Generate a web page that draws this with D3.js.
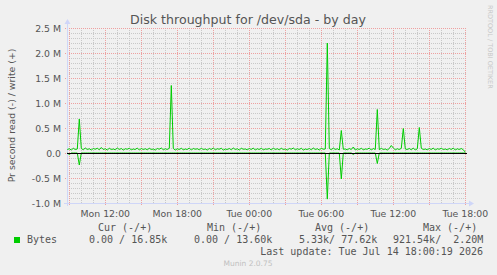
<!DOCTYPE html>
<html><head><meta charset="utf-8">
<script src="https://cdn.jsdelivr.net/npm/d3@7"></script>
<style>
html,body{margin:0;padding:0;background:#f0f0f0;}
svg{display:block;}
</style></head>
<body>
<script>
// ---- data (values in k bytes/s, 10-minute samples starting Mon 08:50) ----
const startTime = new Date(2026, 6, 13, 8, 50);
const stepMinutes = 10;
const writeValues = [
 70, 85, 60, 95, 70, 80, 680, 90, 65, 100, 70, 85, 60, 90, 75, 95, 65, 110, 70, 85,
 60, 95, 70, 80, 65, 100, 70, 90, 60, 85, 75, 95, 65, 80, 70, 100, 60, 90, 70, 85,
 65, 95, 70, 80, 60, 90, 75, 100, 65, 85, 70, 95, 1350, 90, 60, 85, 70, 95, 65, 80,
 70, 100, 60, 90, 75, 85, 65, 95, 70, 80, 60, 90, 70, 100, 65, 85, 75, 95, 60, 80,
 70, 90, 65, 100, 70, 85, 60, 95, 75, 80, 65, 90, 70, 100, 60, 85, 70, 95, 65, 80,
 75, 90, 60, 100, 70, 85, 65, 95, 70, 80, 60, 90, 75, 100, 65, 85, 70, 95, 60, 80,
 70, 90, 65, 100, 70, 85, 60, 95, 75, 80, 2200, 90, 65, 100, 70, 85, 60, 450, 75, 80,
 65, 90, 70, 120, 60, 85, 70, 95, 65, 80, 75, 100, 60, 90, 70, 870, 65, 95, 70, 80,
 60, 90, 150, 100, 65, 85, 70, 95, 490, 80, 70, 90, 65, 100, 60, 85, 510, 95, 70, 80,
 65, 90, 70, 100, 60, 85, 75, 95, 70, 80, 65, 90, 70, 100, 60, 85, 70, 90, 65, 17
];
const readValues = [
 0, -30, 0, 0, 0, 0, -240, 0, 0, 0, 0, 0, 0, 0, 0, 0, 0, 0, 0, 0,
 0, 0, 0, 0, 0, 0, 0, 0, 0, 0, 0, 0, 0, 0, 0, 0, 0, 0, 0, 0,
 0, 0, 0, 0, 0, 0, 0, 0, 0, 0, 0, 0, 0, 0, 0, 0, 0, 0, 0, 0,
 0, 0, 0, 0, 0, 0, 0, 0, 0, 0, 0, 0, 0, 0, 0, 0, 0, 0, 0, 0,
 0, 0, 0, 0, 0, 0, 0, 0, 0, 0, 0, 0, 0, 0, 0, 0, 0, 0, 0, 0,
 0, 0, 0, 0, 0, 0, 0, 0, 0, 0, 0, 0, 0, 0, 0, 0, 0, 0, 0, 0,
 0, 0, 0, 0, 0, 0, 0, 0, 0, 0, -922, 0, 0, 0, 0, 0, 0, -520, 0, 0,
 0, 0, 0, -30, 0, 0, 0, 0, 0, 0, 0, 0, 0, 0, 0, -210, 0, 0, 0, 0,
 0, 0, 0, 0, 0, 0, 0, 0, 0, 0, 0, 0, 0, 0, 0, 0, 0, 0, 0, 0,
 0, 0, 0, 0, 0, 0, 0, 0, 0, 0, 0, 0, 0, 0, 0, 0, 0, 0, 0, 0
];
const yTickValues = [-1.0, -0.5, 0.0, 0.5, 1.0, 1.5, 2.0, 2.5];
const yTickLabels = ["-1.0 M", "-0.5 M", "0.0", "0.5 M", "1.0 M", "1.5 M", "2.0 M", "2.5 M"];
const xLabelTimes = [
  new Date(2026, 6, 13, 12), new Date(2026, 6, 13, 18), new Date(2026, 6, 14, 0),
  new Date(2026, 6, 14, 6), new Date(2026, 6, 14, 12), new Date(2026, 6, 14, 18)
];
const legendHeaders = ["Cur (-/+)", "Min (-/+)", "Avg (-/+)", "Max (-/+)"];
const legendValues = ["0.00 / 16.85k", "0.00 / 13.60k", "5.33k/ 77.62k", "921.54k/  2.20M"];
const seriesName = "Bytes";
const title = "Disk throughput for /dev/sda - by day";
const yLabel = "Pr second read (-) / write (+)";
const lastUpdate = "Last update: Tue Jul 14 18:00:19 2026";
const footer = "Munin 2.0.75";
const watermark = "RRDTOOL / TOBI OETIKER";

// ---- layout ----
const W = 497, H = 275;
const L = 67, R = 467, T = 28, B = 203;
const svg = d3.select("body").append("svg").attr("width", W).attr("height", H)
  .style("font-family", "'DejaVu Sans', sans-serif");
svg.append("rect").attr("width", W).attr("height", H).attr("fill", "#f0f0f0");

const t0 = new Date(2026, 6, 13, 8, 48, 30);
const t1 = new Date(2026, 6, 14, 18, 8, 30);
const x = d3.scaleTime().domain([t0, t1]).range([L, R]);
const y = d3.scaleLinear().domain([-1.0, 2.5]).range([B, T]);

const minorColor = "#c8c8c8", majorColor = "#eea0a0";
const g = svg.append("g");
// horizontal grid
const hMinor = d3.range(-10, 26).map(v => v / 10).filter(v => Math.abs(v * 2 - Math.round(v * 2)) > 1e-6);
g.selectAll("line.hmin").data(hMinor).join("line")
  .attr("x1", L).attr("x2", R).attr("y1", d => Math.round(y(d)) + 0.5).attr("y2", d => Math.round(y(d)) + 0.5)
  .attr("stroke", minorColor).attr("stroke-dasharray", "1,1");
// vertical minor grid (hourly)
const hours = d3.timeHour.range(t0, t1);
g.selectAll("line.vmin").data(hours.filter(h => h.getHours() % 3 !== 0)).join("line")
  .attr("x1", d => Math.round(x(d)) + 0.5).attr("x2", d => Math.round(x(d)) + 0.5)
  .attr("y1", T).attr("y2", B).attr("stroke", minorColor).attr("stroke-dasharray", "1,1");
// major grid
g.selectAll("line.hmaj").data(yTickValues).join("line")
  .attr("x1", L - 2).attr("x2", R).attr("y1", d => Math.round(y(d)) + 0.5).attr("y2", d => Math.round(y(d)) + 0.5)
  .attr("stroke", majorColor).attr("stroke-dasharray", "1,1");
g.selectAll("line.vmaj").data(hours.filter(h => h.getHours() % 3 === 0)).join("line")
  .attr("x1", d => Math.round(x(d)) + 0.5).attr("x2", d => Math.round(x(d)) + 0.5)
  .attr("y1", T).attr("y2", B + 2).attr("stroke", majorColor).attr("stroke-dasharray", "1,1");

// axes
const axisColor = "#cfd6f8";
svg.append("line").attr("x1", L - 3).attr("x2", R + 3).attr("y1", B + 0.5).attr("y2", B + 0.5).attr("stroke", axisColor);
svg.append("line").attr("x1", L + 0.5).attr("x2", L + 0.5).attr("y1", B + 3).attr("y2", T - 5).attr("stroke", axisColor);
svg.append("path").attr("d", `M${R + 2},${B - 2.5} L${R + 7},${B + 0.5} L${R + 2},${B + 3.5} Z`).attr("fill", axisColor);
svg.append("path").attr("d", `M${L - 2.5},${T - 4} L${L + 0.5},${T - 9} L${L + 3.5},${T - 4} Z`).attr("fill", axisColor);

// series
const times = writeValues.map((_, i) => new Date(startTime.getTime() + i * stepMinutes * 60000));
const line = d3.line().x(d => x(d[0])).y(d => y(d[1] / 1000));
const green = "#00cc00";
svg.append("path").datum(times.map((t, i) => [t, readValues[i]]))
  .attr("d", line).attr("fill", "none").attr("stroke", green).attr("stroke-width", 1);
svg.append("path").datum(times.map((t, i) => [t, writeValues[i]]))
  .attr("d", line).attr("fill", "none").attr("stroke", green).attr("stroke-width", 1);
// zero line
svg.append("line").attr("x1", L).attr("x2", R).attr("y1", Math.round(y(0)) + 0.5).attr("y2", Math.round(y(0)) + 0.5)
  .attr("stroke", "#000").attr("stroke-width", 1);

// tick labels
const fc = "#555";
svg.selectAll("text.yt").data(yTickValues).join("text")
  .attr("x", 61).attr("y", d => y(d) + 3.5).attr("text-anchor", "end")
  .attr("font-size", "9.33px").attr("fill", fc).text((d, i) => yTickLabels[i]);
const fmt = d3.timeFormat("%a %H:%M");
svg.selectAll("text.xt").data(xLabelTimes).join("text")
  .attr("x", d => x(d)).attr("y", 216.5).attr("text-anchor", "middle")
  .attr("font-size", "9.33px").attr("fill", fc).text(d => fmt(d));

// title, labels
svg.append("text").attr("x", 248).attr("y", 24).attr("text-anchor", "middle")
  .attr("font-size", "12.6px").attr("fill", fc).text(title);
svg.append("text").attr("transform", `translate(14.5,${(T + B) / 2}) rotate(-90)`)
  .attr("text-anchor", "middle").attr("font-size", "9.33px").attr("fill", fc).text(yLabel);
svg.append("text").attr("transform", `translate(487.5,5) rotate(90)`)
  .attr("text-anchor", "start").attr("font-size", "6.5px").attr("fill", "#c8c8c8").text(watermark);

// legend
const mono = "'DejaVu Sans Mono', monospace";
svg.append("rect").attr("x", 14).attr("y", 237).attr("width", 6).attr("height", 6).attr("fill", green);
svg.append("text").attr("x", 27).attr("y", 243).attr("font-family", mono).attr("font-size", "10px")
  .attr("fill", fc).text(seriesName);
const headerX = [98, 207, 315, 423];
const valueX = [89, 194, 299, 393];
svg.selectAll("text.lh").data(legendHeaders).join("text")
  .attr("x", (d, i) => headerX[i]).attr("y", 231).attr("font-family", mono).attr("font-size", "10px")
  .attr("fill", fc).attr("xml:space", "preserve").style("white-space", "pre").text(d => d);
svg.selectAll("text.lv").data(legendValues).join("text")
  .attr("x", (d, i) => valueX[i]).attr("y", 243).attr("font-family", mono).attr("font-size", "10px")
  .attr("fill", fc).style("white-space", "pre").text(d => d);
svg.append("text").attr("x", 483).attr("y", 255).attr("text-anchor", "end").attr("font-family", mono)
  .attr("font-size", "10px").attr("fill", fc).style("white-space", "pre").text(lastUpdate);
svg.append("text").attr("x", 248).attr("y", 266).attr("text-anchor", "middle")
  .attr("font-size", "7.5px").attr("fill", "#c0c0c0").text(footer);
</script>
</body></html>
